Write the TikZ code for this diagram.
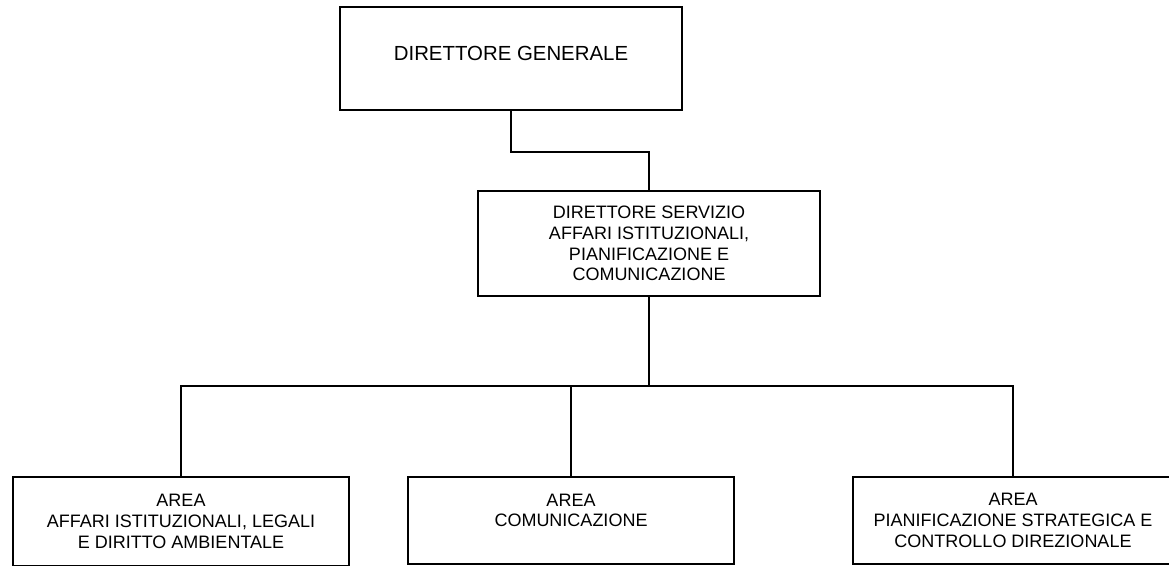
\documentclass[tikz,border=0pt]{standalone}
\usepackage{fontspec}
\setmainfont{Liberation Sans}
\tikzset{
  box/.style = {draw, line width=1.6pt, rectangle, align=center, inner sep=0pt,
                font=\fontsize{18}{20.7}\selectfont},
  wire/.style = {draw, line width=1.8pt}
}
\begin{document}
\begin{tikzpicture}[x=1pt, y=-1pt, color = {black}]
    \useasboundingbox (0,0) rectangle (1169,565);
    % top of the chart
    \node[box, minimum width=342pt, minimum height=103pt, text depth=11pt,
          font=\fontsize{20.4}{24}\selectfont] (dg) at (511,58.5) {DIRETTORE GENERALE};
    \node[box, minimum width=342pt, minimum height=105pt] (servizio) at (649,243.5)
        {DIRETTORE SERVIZIO\\AFFARI ISTITUZIONALI,\\PIANIFICAZIONE E\\COMUNICAZIONE};
    % the three areas
    \node[box, minimum width=336pt, minimum height=89pt] (legali) at (181,521.5)
        {AREA\\AFFARI ISTITUZIONALI, LEGALI\\E DIRITTO AMBIENTALE};
    \node[box, minimum width=326pt, minimum height=87pt] (comunicazione) at (571,520.5)
        {AREA\\COMUNICAZIONE\\~};
    \node[box, minimum width=320pt, minimum height=87pt] (controllo) at (1013,520.5)
        {AREA\\PIANIFICAZIONE STRATEGICA E\\CONTROLLO DIREZIONALE};
    % connectors
    \draw[wire] (dg.south) -- ++(0,41) -| (servizio.north);
    \coordinate (bus) at (servizio.south |- 0,386);
    \draw[wire] (servizio.south) -- (bus);
    \foreach \area in {legali,comunicazione,controllo}
        \draw[wire] (bus) -| (\area.north);
\end{tikzpicture}
\end{document}
